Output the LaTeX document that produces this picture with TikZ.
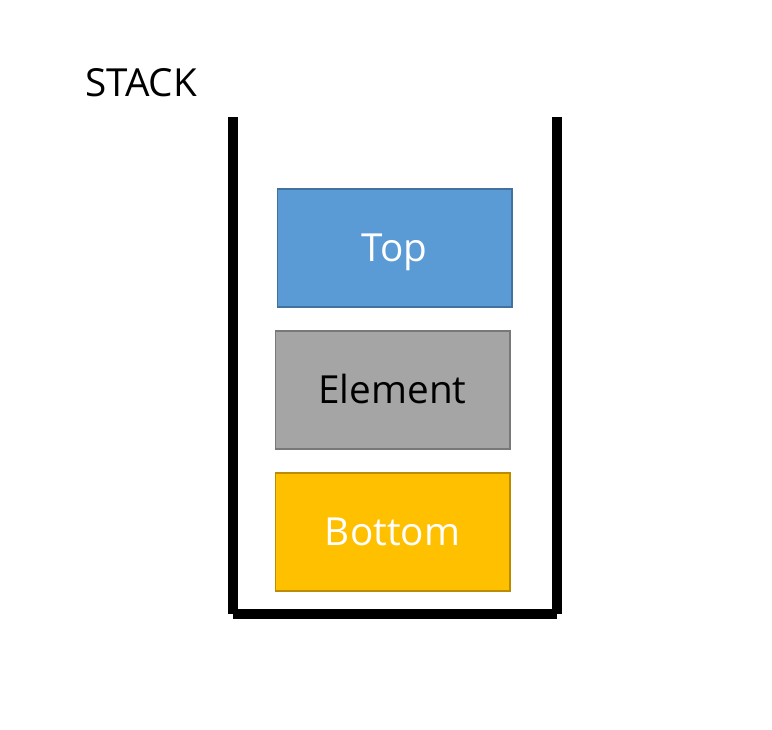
\documentclass[tikz,border=0pt]{standalone}
\usepackage{fontspec}
\setmainfont{Open Sans}
\usetikzlibrary{positioning}
\usepackage{xcolor}
\definecolor{topfill}{HTML}{5B9BD5}
\definecolor{topline}{HTML}{41719C}
\definecolor{elemfill}{HTML}{A5A5A5}
\definecolor{elemline}{HTML}{787878}
\definecolor{botfill}{HTML}{FFC000}
\definecolor{botline}{HTML}{BC8C00}

\begin{document}
\begin{tikzpicture}[
    x=0.75pt, y=-0.75pt,
    itembox/.style={draw, line width=1pt, minimum width=176pt, minimum height=88.5pt, inner sep=0pt, text height=20.7pt, text depth=0pt, align=center, font=\fontsize{29}{35}\selectfont},
    wall/.style={line width=7pt}
]
\useasboundingbox (0,0) rectangle (772,730);

\node[font=\fontsize{29}{35}\selectfont, anchor=west, inner sep=0pt, text height=20.7pt, text depth=0pt] (title) at (85, 83) {STACK};

% stack walls
\coordinate (lt) at (233, 117);
\coordinate (lb) at (233, 614);
\coordinate (rt) at (557, 117);
\coordinate (rb) at (557, 614);
\draw[wall] (lt) -- (lb);
\draw[wall] (rt) -- (rb);
\draw[wall] (lb) -- (rb);

% items
\node[itembox, fill=topfill, draw=topline, text=white] (top) at (394.5, 248) {Top};
\node[itembox, fill=elemfill, draw=elemline, text=black] (elem) at (392.5, 390) {Element};
\node[itembox, fill=botfill, draw=botline, text=white] (bottom) at (392.5, 532) {Bottom};

\end{tikzpicture}
\end{document}
